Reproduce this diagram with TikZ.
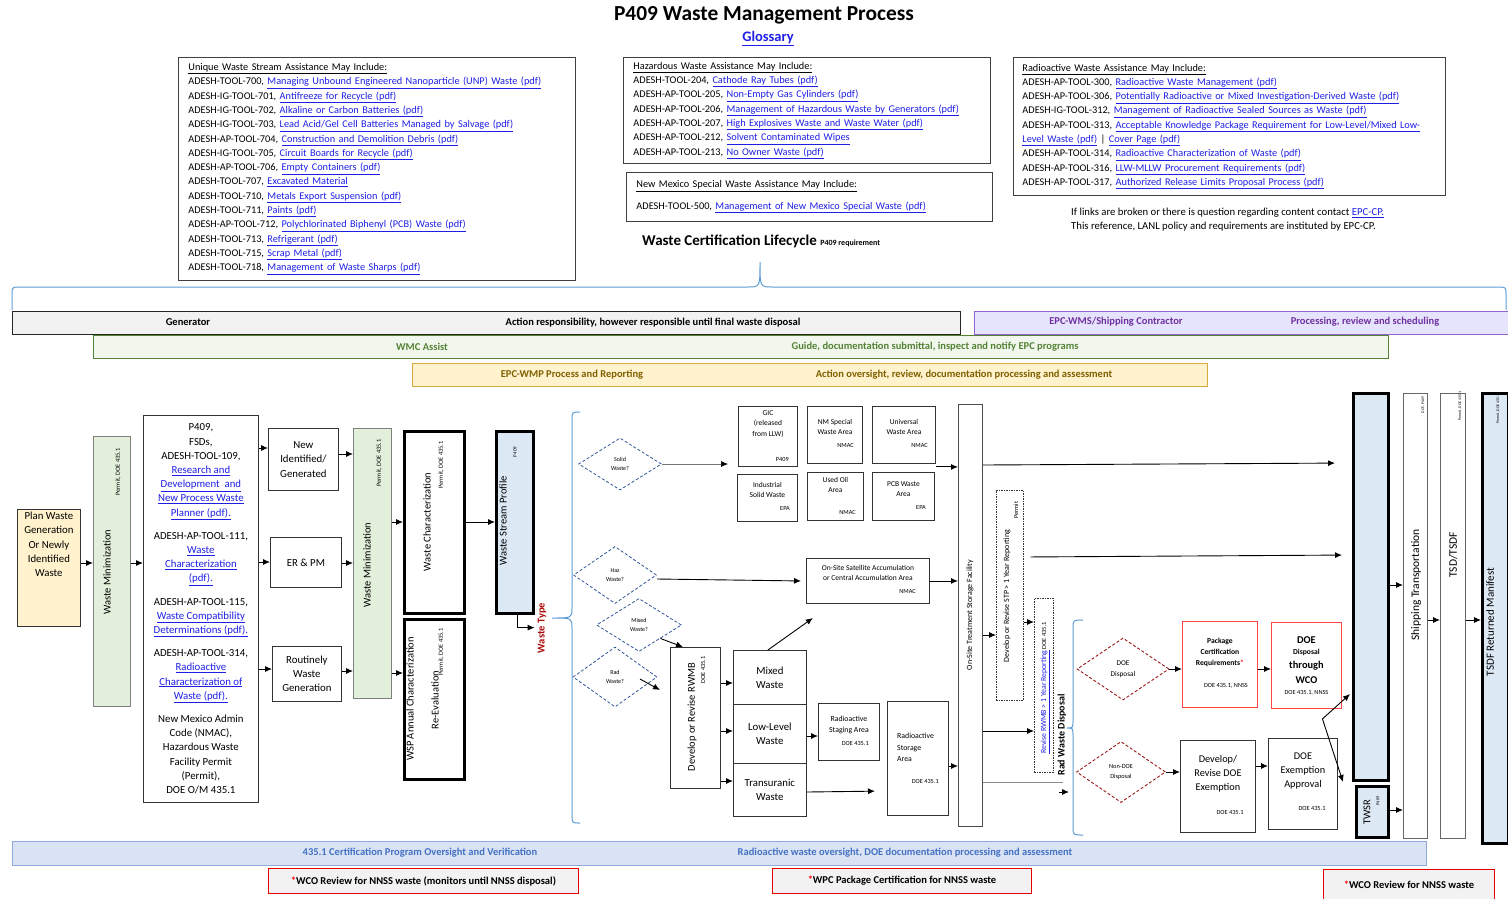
\documentclass[tikz,border=0pt]{standalone}
\usepackage{fontspec}
\setmainfont{Carlito}
\usepackage{xcolor}
\usepackage{tikz}
\usetikzlibrary{arrows.meta,positioning,shapes.geometric}
\definecolor{linkblue}{RGB}{30,30,230}
\definecolor{gengray}{RGB}{242,242,242}
\definecolor{wmspurple}{RGB}{112,48,160}
\definecolor{wmsfill}{RGB}{230,228,252}
\definecolor{wmsborder}{RGB}{150,100,210}
\definecolor{wmcgreen}{RGB}{84,130,53}
\definecolor{wmcfill}{RGB}{242,247,238}
\definecolor{wmpgold}{RGB}{214,170,60}
\definecolor{wmpfill}{RGB}{255,242,204}
\definecolor{wmptxtc}{RGB}{127,96,0}
\definecolor{certfill}{RGB}{218,227,243}
\definecolor{certborder}{RGB}{143,170,220}
\definecolor{certtxt}{RGB}{68,114,196}
\definecolor{braceblue}{RGB}{91,155,213}
\definecolor{wmgreen}{RGB}{226,239,218}
\definecolor{wsblue}{RGB}{221,232,245}
\definecolor{planyel}{RGB}{255,242,204}
\definecolor{qblue}{RGB}{47,85,151}
\definecolor{rdred}{RGB}{155,25,25}
\definecolor{pkred}{RGB}{255,70,70}
\definecolor{wtred}{RGB}{170,10,10}
\newcommand\fsz[2]{\fontsize{#1}{#2}\selectfont}
\newcommand\lnk[1]{\textcolor{linkblue}{\underline{#1}}}
\tikzset{
  infobox/.style={draw=black!75, line width=0.9pt, anchor=north west, align=left, inner xsep=10pt, inner ysep=0pt, font=\fsz{10.3}{14.3}},
  band/.style={anchor=north west, line width=0.8pt, inner sep=0pt},
  bandtxt/.style={font=\fsz{10.5}{12}\bfseries, inner sep=0pt},
  pbox/.style={draw=black!80, line width=0.8pt, anchor=north west, align=center, inner sep=0pt, font=\fsz{10.8}{14.2}},
  hbox/.style={draw=black, line width=2.6pt, anchor=north west, inner sep=0pt},
  gbar/.style={draw=black!50, fill=wmgreen, line width=0.7pt, anchor=north west, inner sep=0pt},
  sbox/.style={draw=black!80, line width=0.9pt, anchor=north west, inner sep=0pt},
  dotbox/.style={draw=black!80, line width=0.7pt, dash pattern=on 1.5pt off 1pt},
  stxt/.style={font=\fsz{7.5}{10.5}, align=center, inner sep=0pt},
  tinytxt/.style={font=\fsz{6.3}{7}, inner sep=0pt},
  vtxt/.style={rotate=90, font=\fsz{10.5}{12}, inner sep=0pt},
  vtiny/.style={rotate=90, font=\fsz{6.3}{7}, inner sep=0pt},
  vmicro/.style={rotate=90, font=\fsz{3.9}{5}, inner sep=0pt},
  qdiam/.style={diamond, draw=qblue, line width=0.8pt, dash pattern=on 3pt off 2pt, inner sep=0pt, align=center, font=\fsz{6}{9}},
  rdiam/.style={diamond, draw=rdred, line width=0.9pt, dash pattern=on 3pt off 2pt, inner sep=0pt, align=center, font=\fsz{7.3}{11}},
  farr/.style={-{Latex[length=7pt,width=6pt]}, line width=0.9pt},
  tarr/.style={-{Latex[length=7pt,width=6pt,color=black]}, line width=0.6pt, draw=black!55},
  brc/.style={draw=braceblue, line width=1pt},
  redbox/.style={draw=red!90!black, line width=0.9pt, fill=gengray, anchor=north west, inner sep=0pt, font=\fsz{10.5}{12}\bfseries}
}
\begin{document}
\begin{tikzpicture}[x=1pt,y=-1pt]
\useasboundingbox (0,0) rectangle (1508,898);

% header
\node[font=\fsz{21.4}{25}\bfseries] (title) at (764,15) {P409 Waste Management Process};
\node[font=\fsz{14.5}{17}\bfseries] (gloss) at (768,39) {\lnk{Glossary}};

% assistance lists
\node[infobox, minimum width=397, minimum height=223, text width=377] (uwsa) at (178,57) {\underline{Unique Waste Stream Assistance May Include:}\\
ADESH-TOOL-700, \lnk{Managing Unbound Engineered Nanoparticle (UNP) Waste (pdf)}\\
ADESH-IG-TOOL-701, \lnk{Antifreeze for Recycle (pdf)}\\
ADESH-IG-TOOL-702, \lnk{Alkaline or Carbon Batteries (pdf)}\\
ADESH-IG-TOOL-703, \lnk{Lead Acid/Gel Cell Batteries Managed by Salvage (pdf)}\\
ADESH-AP-TOOL-704, \lnk{Construction and Demolition Debris (pdf)}\\
ADESH-IG-TOOL-705, \lnk{Circuit Boards for Recycle (pdf)}\\
ADESH-AP-TOOL-706, \lnk{Empty Containers (pdf)}\\
ADESH-TOOL-707, \lnk{Excavated Material}\\
ADESH-TOOL-710, \lnk{Metals Export Suspension (pdf)}\\
ADESH-TOOL-711, \lnk{Paints (pdf)}\\
ADESH-AP-TOOL-712, \lnk{Polychlorinated Biphenyl (PCB) Waste (pdf)}\\
ADESH-TOOL-713, \lnk{Refrigerant (pdf)}\\
ADESH-TOOL-715, \lnk{Scrap Metal (pdf)}\\
ADESH-TOOL-718, \lnk{Management of Waste Sharps (pdf)}};
\node[infobox, minimum width=367, minimum height=106, text width=347] (hwa) at (623,57) {\underline{Hazardous Waste Assistance May Include:}\\
ADESH-TOOL-204, \lnk{Cathode Ray Tubes (pdf)}\\
ADESH-AP-TOOL-205, \lnk{Non-Empty Gas Cylinders (pdf)}\\
ADESH-AP-TOOL-206, \lnk{Management of Hazardous Waste by Generators (pdf)}\\
ADESH-AP-TOOL-207, \lnk{High Explosives Waste and Waste Water (pdf)}\\
ADESH-AP-TOOL-212, \lnk{Solvent Contaminated Wipes}\\
ADESH-AP-TOOL-213, \lnk{No Owner Waste (pdf)}};
\node[infobox, minimum width=366, minimum height=49, text width=346] (nmsw) at (626,172) {\underline{New Mexico Special Waste Assistance May Include:}\\[7pt]
ADESH-TOOL-500, \lnk{Management of New Mexico Special Waste (pdf)}};
\node[infobox, minimum width=432, minimum height=138, text width=414, inner xsep=9pt] (rwa) at (1013,57) {\underline{Radioactive Waste Assistance May Include:}\\
ADESH-AP-TOOL-300, \lnk{Radioactive Waste Management (pdf)}\\
ADESH-AP-TOOL-306, \lnk{Potentially Radioactive or Mixed Investigation-Derived Waste (pdf)}\\
ADESH-IG-TOOL-312, \lnk{Management of Radioactive Sealed Sources as Waste (pdf)}\\
ADESH-AP-TOOL-313, \lnk{Acceptable Knowledge Package Requirement for Low-Level/Mixed Low-}\\
\lnk{Level Waste (pdf)} | \lnk{Cover Page (pdf)}\\
ADESH-AP-TOOL-314, \lnk{Radioactive Characterization of Waste (pdf)}\\
ADESH-AP-TOOL-316, \lnk{LLW-MLLW Procurement Requirements (pdf)}\\
ADESH-AP-TOOL-317, \lnk{Authorized Release Limits Proposal Process (pdf)}};
\node[font=\fsz{10.7}{14}, align=left, anchor=north west, inner sep=0pt] (contact) at (1071,208) {If links are broken or there is question regarding content contact \lnk{EPC-CP.}\\This reference, LANL policy and requirements are instituted by EPC-CP.};
\node[font=\fsz{15}{17}\bfseries, anchor=west, inner sep=0pt] (wcl) at (642,241) {Waste Certification Lifecycle {\fsz{8}{9}P409 requirement}};

% responsibility bands
\draw[brc] (12,310) -- (12,295) .. controls (12,287) .. (20,287) -- (748,287) .. controls (760,287) .. (760,262) .. controls (760,287) .. (772,287) -- (1498,287) .. controls (1506,287) .. (1506,295) -- (1506,310);
\node[band, draw=black!85, fill=gengray, minimum width=948, minimum height=23] (genband) at (12,311) {};
\node[band, draw=wmsborder, fill=wmsfill, minimum width=534, minimum height=23] (wmsband) at (974,311) {};
\node[band, draw=wmcgreen, fill=wmcfill, minimum width=1295, minimum height=23] (wmcband) at (93,335) {};
\node[band, draw=wmpgold, fill=wmpfill, minimum width=795, minimum height=23] (wmpband) at (412,363) {};
\node[band, draw=certborder, fill=certfill, minimum width=1414, minimum height=24] (certband) at (12,841) {};
\node[bandtxt] (gentxt) at (188,322.5) {Generator};
\node[bandtxt] (genresp) at (653,322.5) {Action responsibility, however responsible until final\ waste disposal};
\node[bandtxt, text=wmspurple] (wmstxt) at (1116,322) {EPC-WMS/Shipping Contractor};
\node[bandtxt, text=wmspurple] (wmsproc) at (1365,322) {Processing, review and scheduling};
\node[bandtxt, text=wmcgreen] (wmctxt) at (422,347) {WMC Assist};
\node[bandtxt, text=wmcgreen] (wmcguide) at (935,347) {Guide, documentation submittal, inspect and notify EPC programs};
\node[bandtxt, text=wmptxtc] (wmptxt) at (572,374.5) {EPC-WMP Process and Reporting};
\node[bandtxt, text=wmptxtc] (wmpact) at (964,374.5) {Action oversight, review, documentation processing and assessment};
\node[bandtxt, text=certtxt] (certtxt1) at (420,853) {435.1 Certification Program Oversight and Verification};
\node[bandtxt, text=certtxt] (certtxt2) at (905,853) {Radioactive waste oversight, DOE documentation processing and assessment};
\node[redbox, minimum width=310, minimum height=25] (wcorev) at (268,868) {\textcolor{red}{*}WCO Review for NNSS waste (monitors until NNSS disposal)};
\node[redbox, minimum width=259, minimum height=25] (wpcpkg) at (772,868) {\textcolor{red}{*}WPC Package Certification for NNSS waste};
\node[redbox, minimum width=171, minimum height=30] (wcorev2) at (1323,869) {\textcolor{red}{*}WCO Review for NNSS waste};

% generation and characterization
\node[pbox, fill=planyel, minimum width=63, minimum height=117] (plan) at (17,509) {};
\node[font=\fsz{10.8}{14.2}, align=center, inner sep=0pt, below=3pt of plan.north] (plantxt) {Plan Waste\\Generation\\Or Newly\\Identified\\Waste};
\node[gbar, minimum width=37, minimum height=270] (wmin1) at (93,436) {};
\node[vtxt] (wmin1t) at (107,572) {Waste Minimization};
\node[vtiny] (wmin1p) at (118,472) {Permit, DOE 435.1};
\node[pbox, minimum width=115, minimum height=387] (tools) at (143,415) {P409,\\FSDs,\\ADESH-TOOL-109,\\\lnk{Research and}\\\lnk{Development\ \ and}\\\lnk{New Process Waste}\\\lnk{Planner (pdf).}\\[9pt]
ADESH-AP-TOOL-111,\\\lnk{Waste}\\\lnk{Characterization}\\\lnk{(pdf).}\\[9pt]
ADESH-AP-TOOL-115,\\\lnk{Waste Compatibility}\\\lnk{Determinations (pdf).}\\[9pt]
ADESH-AP-TOOL-314,\\\lnk{Radioactive}\\\lnk{Characterization of}\\\lnk{Waste (pdf).}\\[9pt]
New Mexico Admin\\Code (NMAC),\\Hazardous Waste\\Facility Permit\\(Permit),\\DOE O/M 435.1};
\node[pbox, minimum width=70, minimum height=62] (newid) at (268,428) {New\\Identified/\\Generated};
\node[pbox, minimum width=71, minimum height=50] (erpm) at (270,537) {ER \& PM};
\node[pbox, minimum width=69, minimum height=55] (routine) at (272,646) {Routinely\\Waste\\Generation};
\node[gbar, minimum width=38, minimum height=270] (wmin2) at (353,428) {};
\node[vtxt] (wmin2t) at (367,565) {Waste Minimization};
\node[vtiny] (wmin2p) at (379,463) {Permit, DOE 435.1};
\node[hbox, minimum width=60, minimum height=182] (wchar) at (403,430) {};
\node[vtxt] (wchart) at (427,522) {Waste Characterization};
\node[vtiny] (wcharp) at (441,465) {Permit, DOE 435.1};
\node[hbox, minimum width=60, minimum height=160] (wspann) at (403,618) {};
\node[vtxt] (wspannt) at (410,699) {WSP Annual Characterization};
\node[vtxt] (wspannr) at (435,700) {Re-Evaluation};
\node[vtiny] (wspannp) at (441,652) {Permit, DOE 435.1};
\node[hbox, fill=wsblue, minimum width=37, minimum height=182] (wsp) at (495,430) {};
\node[vtxt] (wspt) at (503,521) {Waste Stream Profile};
\node[vtiny, font=\fsz{5}{6}] (wspp) at (515,452) {P409};
\node[vtxt, font=\fsz{10.5}{12}\bfseries, text=wtred] (wtype) at (542,628) {Waste Type};

% waste type decisions
\draw[brc] (580,412) .. controls (572,412) .. (572,420) -- (572,608) .. controls (572,618) .. (552,618) .. controls (572,618) .. (572,628) -- (572,815) .. controls (572,823) .. (580,823);
\node[qdiam, minimum width=83, minimum height=52] (solid) at (620,464) {Solid\\Waste?};
\node[qdiam, minimum width=83, minimum height=57] (haz) at (615,575) {Haz\\Waste?};
\node[qdiam, minimum width=85, minimum height=53] (mixed) at (639,625) {Mixed\\Waste?};
\node[qdiam, minimum width=84, minimum height=60] (rad) at (615,677) {Rad\\Waste?};

% solid waste areas
\node[sbox, minimum width=59, minimum height=60] (gic) at (738,406) {};
\node[stxt, below=4pt of gic.north] (gict) {GIC\\(released\\from LLW)};
\node[tinytxt, anchor=south east] (gicn) at ([xshift=-9pt,yshift=5pt]gic.south east) {P409};
\node[sbox, minimum width=55, minimum height=57] (nmsp) at (807,406) {};
\node[stxt, below=13pt of nmsp.north] (nmspt) {NM Special\\Waste Area};
\node[tinytxt, anchor=south east] (nmspn) at ([xshift=-9pt,yshift=16pt]nmsp.south east) {NMAC};
\node[sbox, minimum width=63, minimum height=57] (univ) at (872,406) {};
\node[stxt, below=13pt of univ.north] (univt) {Universal\\Waste Area};
\node[tinytxt, anchor=south east] (univn) at ([xshift=-8pt,yshift=16pt]univ.south east) {NMAC};
\node[sbox, minimum width=60, minimum height=47] (indus) at (737,474) {};
\node[stxt, below=8pt of indus.north] (indust) {Industrial\\Solid Waste};
\node[tinytxt, anchor=south east] (indusn) at ([xshift=-8pt,yshift=11pt]indus.south east) {EPA};
\node[sbox, minimum width=56, minimum height=48] (usedoil) at (807,472) {};
\node[stxt, below=5pt of usedoil.north] (usedoilt) {Used Oil\\Area};
\node[tinytxt, anchor=south east] (usedoiln) at ([xshift=-8pt,yshift=6pt]usedoil.south east) {NMAC};
\node[sbox, minimum width=62, minimum height=48] (pcb) at (872,472) {};
\node[stxt, below=9pt of pcb.north] (pcbt) {PCB Waste\\Area};
\node[tinytxt, anchor=south east] (pcbn) at ([xshift=-9pt,yshift=11pt]pcb.south east) {EPA};
\node[sbox, minimum width=123, minimum height=45] (sat) at (806,558) {};
\node[stxt, below=7pt of sat.north] (satt) {On-Site Satellite Accumulation\\or Central Accumulation Area};
\node[tinytxt, anchor=south east] (satn) at ([xshift=-14pt,yshift=10pt]sat.south east) {NMAC};

% radioactive waste path
\node[sbox, minimum width=50, minimum height=141] (rwmb) at (670,647) {};
\node[vtxt] (rwmbt) at (692,717) {Develop or Revise RWMB};
\node[vtiny] (rwmbp) at (703,670) {DOE 435.1};
\node[pbox, minimum width=73, minimum height=54] (mixedw) at (733,650) {Mixed\\Waste};
\node[pbox, minimum width=73, minimum height=59] (lowlev) at (733,704) {Low-Level\\Waste};
\node[pbox, minimum width=73, minimum height=53] (trans) at (733,763) {Transuranic\\Waste};
\node[sbox, minimum width=61, minimum height=57] (staging) at (818,703) {};
\node[stxt, font=\fsz{7.8}{11}, below=13pt of staging.north] (stagingt) {Radioactive\\Staging Area};
\node[tinytxt, anchor=south east] (stagingn) at ([xshift=-11pt,yshift=15pt]staging.south east) {DOE 435.1};
\node[sbox, minimum width=61, minimum height=114] (storage) at (887,701) {};
\node[stxt, font=\fsz{7.8}{11.5}, align=left, anchor=north west] (storaget) at (897,733) {Radioactive\\Storage\\Area};
\node[tinytxt, anchor=south east] (storagen) at ([xshift=-10pt,yshift=32pt]storage.south east) {DOE 435.1};
\node[sbox, draw=black!70, minimum width=24, minimum height=422] (onsite) at (958,404) {};
\node[vtxt, font=\fsz{8}{9}] (onsitet) at (970,615) {On-Site Treatment Storage Facility};
\node[sbox, dotbox, minimum width=27, minimum height=210] (stp) at (996,490) {};
\node[vtxt, font=\fsz{8}{9}] (stpt) at (1007,596) {Develop or Revise STP > 1 Year Reporting};
\node[vtiny] (stpp) at (1016,510) {Permit};
\node[sbox, dotbox, minimum width=19, minimum height=174] (rrwmb) at (1034,598) {};
\node[vtxt, font=\fsz{7.8}{9}] (rrwmbt) at (1045,688) {\lnk{Revise RWMB > 1 Year Reporting}\,{\fsz{6.3}{7}DOE 435.1}};
\node[vtxt, font=\fsz{10}{11}\bfseries] (radtxt) at (1062,735) {Rad Waste Disposal};

% disposal
\draw[brc] (1083,620) .. controls (1073,620) .. (1073,628) -- (1073,720) .. controls (1073,728) .. (1067,728) .. controls (1073,728) .. (1073,736) -- (1073,827) .. controls (1073,835) .. (1083,835);
\node[rdiam, minimum width=92, minimum height=62] (doed) at (1123,669) {DOE\\Disposal};
\node[rdiam, font=\fsz{6.3}{10}, minimum width=89, minimum height=61] (nondoe) at (1121,772) {Non-DOE\\Disposal};
\node[sbox, draw=pkred, minimum width=75, minimum height=86] (pkg) at (1182,621) {};
\node[stxt, font=\fsz{7.6}{11}\bfseries, below=17pt of pkg.north] (pkgt) {Package\\Certification\\Requirements\textcolor{red}{*}};
\node[tinytxt] (pkgn) at ([xshift=6pt,yshift=-65pt]pkg.north) {DOE 435.1, NNSS};
\node[sbox, draw=pkred, minimum width=70, minimum height=86] (wco) at (1271,622) {};
\node[font=\fsz{10.4}{11}\bfseries, inner sep=0pt] (wco1) at ([yshift=-18pt]wco.north) {DOE};
\node[font=\fsz{7.6}{8}\bfseries, inner sep=0pt] (wco2) at ([yshift=-30pt]wco.north) {Disposal};
\node[font=\fsz{10.4}{11}\bfseries, inner sep=0pt] (wco3) at ([yshift=-44pt]wco.north) {through};
\node[font=\fsz{10.4}{11}\bfseries, inner sep=0pt] (wco4) at ([yshift=-58pt]wco.north) {WCO};
\node[tinytxt] (wcon) at ([yshift=-71pt]wco.north) {DOE 435.1, NNSS};
\node[sbox, minimum width=75, minimum height=92] (devex) at (1180,740) {};
\node[font=\fsz{10.3}{14}, align=center, inner sep=0pt, below=15pt of devex.north] (devext) {Develop/\\Revise DOE\\Exemption};
\node[tinytxt] (devexn) at (1230,812) {DOE 435.1};
\node[sbox, minimum width=69, minimum height=91] (exap) at (1268,738) {};
\node[font=\fsz{10.3}{14}, align=center, inner sep=0pt, below=15pt of exap.north] (exapt) {DOE\\Exemption\\Approval};
\node[tinytxt] (exapn) at (1312,808) {DOE 435.1};

% shipping columns
\node[hbox, fill=wsblue, minimum width=35, minimum height=387] (bigblue) at (1352,392) {};
\node[hbox, fill=wsblue, minimum width=32, minimum height=51] (twsr) at (1355,785) {};
\node[vtxt] (twsrt) at (1367,812) {TWSR};
\node[vtiny, font=\fsz{4.5}{5}] (twsrp) at (1378,801) {P409};
\node[sbox, draw=black!60, line width=0.7pt, minimum width=24, minimum height=445] (ship) at (1403,393) {};
\node[vtxt, font=\fsz{11.5}{12}] (shipt) at (1416,585) {Shipping Transportation};
\node[vmicro] (shipp) at (1423,405) {DOT, P409};
\node[sbox, draw=black!60, line width=0.7pt, minimum width=25, minimum height=445] (tsd) at (1440,393) {};
\node[vtxt, font=\fsz{11.5}{12}] (tsdt) at (1453,555) {TSD/TSDF};
\node[vmicro] (tsdp) at (1460,406) {Permit, DOE 435.1};
\node[hbox, fill=wsblue, minimum width=26, minimum height=450] (tsdfm) at (1481,392) {};
\node[vtxt, font=\fsz{11}{12}] (tsdfmt) at (1490,622) {TSDF Returned Manifest};
\node[vmicro] (tsdfmp) at (1498,409) {Permit, DOE 435.1};

% connectors
\draw[farr] (plan.east |- 0,563) -- (wmin1.west |- 0,563);
\draw[farr] (wmin1.east |- 0,563) -- (tools.west |- 0,563);
\draw[farr] (tools.east |- 0,448) -- (newid.west |- 0,448);
\draw[farr] (tools.east |- 0,562) -- (erpm.west |- 0,562);
\draw[farr] (tools.east |- 0,669) -- (routine.west |- 0,669);
\draw[farr] (newid.east |- 0,454) -- (wmin2.west |- 0,454);
\draw[farr] (erpm.east |- 0,563) -- (wmin2.west |- 0,563);
\draw[farr] (routine.east |- 0,671) -- (wmin2.west |- 0,671);
\draw[farr] (wmin2.east |- 0,522) -- (wchar.west |- 0,522);
\draw[farr] (wmin2.east |- 0,673) -- (wspann.west |- 0,673);
\draw[farr] (wchar.east |- 0,522) -- (wsp.west |- 0,522);
\draw[farr] ([xshift=3pt]wsp.south) |- ([yshift=-13pt]wsp.south east);
\draw[tarr] (solid.east) -- ([xshift=-10pt]solid.east -| gic.west);
\draw[farr] ([yshift=-4pt]haz.east) -- ([xshift=-5pt]sat.west);
\draw[farr] (mixed.south east) -- ([xshift=13pt]rwmb.north west);
\draw[farr] ([xshift=25pt,yshift=-2pt]rad.center) -- ([xshift=-10pt,yshift=-43pt]rwmb.north west);
\draw[farr] ([yshift=-3pt]univ.south east) -- ([yshift=-3pt]univ.south east -| onsite.west);
\draw[farr] (sat.east) -- (sat.east -| onsite.west);
\draw[farr] (rwmb.east |- 0,683) -- (mixedw.west |- 0,683);
\draw[farr] (rwmb.east |- 0,731) -- (lowlev.west |- 0,731);
\draw[farr] (rwmb.east |- 0,781) -- (trans.west |- 0,781);
\draw[farr] ([xshift=-2pt]mixedw.north) -- ++(45,-32);
\draw[farr] (lowlev.east |- 0,736) -- (staging.west |- 0,736);
\draw[farr, shorten >=12pt] (trans.east |- 0,792) -- (storage.west |- 0,791);
\draw[farr] (storage.east |- 0,766) -- (onsite.west |- 0,766);
\draw[farr, shorten >=17pt] (onsite.east |- 0,465) -- (bigblue.west |- 0,463);
\draw[farr] (onsite.east |- 0,635) -- (stp.west |- 0,635);
\draw[farr, shorten <=7pt, shorten >=10pt] (stp.east |- 0,557) -- (bigblue.west |- 0,555);
\draw[farr] (stp.east |- 0,622) -- (rrwmb.west |- 0,622);
\draw[farr] (onsite.east |- 0,731) -- (rrwmb.west |- 0,731);
\coordinate (rdline) at (1063,782);
\coordinate (rdtip) at (1069,792);
\draw[line width=0.6pt, draw=black!45] (onsite.east |- rdline) -- (rdline);
\draw[farr] ([xshift=-10pt]rdtip) -- (rdtip);
\draw[farr] (doed.east) -- (doed.east -| pkg.west);
\draw[farr] (pkg.east |- 0,669) -- (wco.west |- 0,669);
\draw[farr] (nondoe.east) -- (nondoe.east -| devex.west);
\draw[farr] (devex.east |- 0,766) -- (exap.west |- 0,766);
\coordinate (xcross) at ([xshift=16pt,yshift=-10pt]wco.south);
\draw[farr] (xcross) -- ([xshift=-2pt]bigblue.west |- 0,694);
\draw[farr] (xcross) -- ([xshift=-12pt,yshift=3pt]twsr.north west);
\draw[farr] (bigblue.east |- 0,585) -- (ship.west |- 0,585);
\draw[farr] (twsr.east |- 0,810) -- (ship.west |- 0,810);
\draw[farr] (ship.east |- 0,620) -- (tsd.west |- 0,620);
\draw[farr] (tsd.east |- 0,620) -- (tsdfm.west |- 0,620);
\end{tikzpicture}
\end{document}
